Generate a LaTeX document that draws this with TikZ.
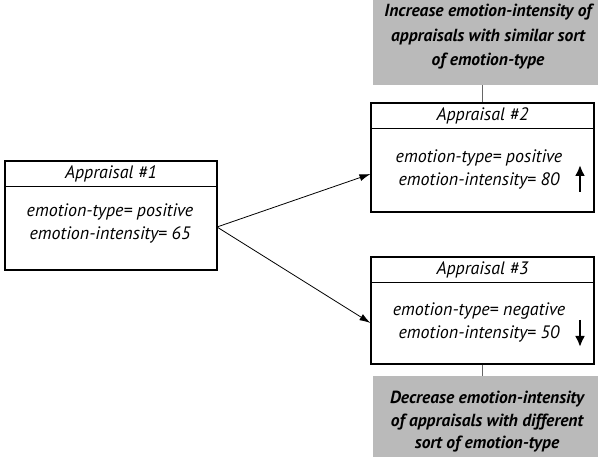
\documentclass[tikz,border=0pt]{standalone}
\usepackage{fontspec}
\setmainfont{PT Sans}
\usetikzlibrary{arrows.meta}
\tikzset{
  box/.style={draw=black, line width=1.1pt, fill=white, inner sep=0pt},
  sepline/.style={draw=black, line width=1pt},
  ttl/.style={font=\fontsize{18}{20}\selectfont\itshape, inner sep=0pt},
  body/.style={font=\fontsize{18}{23}\selectfont\itshape, align=center, inner sep=0pt},
  note/.style={fill=black!27, draw=none, inner sep=0pt},
  notetext/.style={align=center, inner sep=0pt, font=\fontsize{17.5}{24.5}\selectfont\bfseries\itshape},
  conn/.style={draw=black!60, line width=0.6pt},
  arr/.style={draw=black, line width=0.8pt, -{Latex[length=11pt,width=7pt]}},
  updown/.style={draw=black, line width=2.6pt, -{Latex[length=11pt,width=10pt]}}
}
\begin{document}
\begin{tikzpicture}[x=1pt,y=-1pt]
\useasboundingbox (0,0) rectangle (598,457);
% gray notes
\node[note, minimum width=225pt, minimum height=85pt] (g1) at (485.5,42.5) {};
\node[notetext] (g1t) at (488,37) {Increase emotion-intensity of\\appraisals with similar sort\\of emotion-type};
\node[note, minimum width=225pt, minimum height=81pt] (g2) at (485.5,416.5) {};
\node[notetext, font=\fontsize{17.5}{22.5}\selectfont\bfseries\itshape] (g2t) at (487,422) {Decrease emotion-intensity\\of appraisals with different\\sort of emotion-type};
% boxes
\node[box, minimum width=212pt, minimum height=109pt] (b1) at (111,215.5) {};
\node[box, minimum width=223pt, minimum height=109pt] (b2) at (482.5,157.5) {};
\node[box, minimum width=223pt, minimum height=107pt] (b3) at (482.5,310.5) {};
% separators
\coordinate (s1) at (0,187);
\coordinate (s2) at (0,129);
\coordinate (s3) at (0,283);
\draw[sepline] (b1.west |- s1) -- (b1.east |- s1);
\draw[sepline] (b2.west |- s2) -- (b2.east |- s2);
\draw[sepline] (b3.west |- s3) -- (b3.east |- s3);
% titles
\node[ttl] (t1) at (111,174) {Appraisal \#1};
\node[ttl] (t2) at (482.5,116) {Appraisal \#2};
\node[ttl] (t3) at (482.5,270) {Appraisal \#3};
% bodies
\node[body] (v1) at (110,223) {emotion-type= positive\\emotion-intensity= 65};
\node[body] (v2) at (479,169) {emotion-type= positive\\emotion-intensity= 80};
\node[body] (v3) at (479,322.5) {emotion-type= negative\\emotion-intensity= 50};
% up / down arrows
\coordinate (u1) at (580,192);
\coordinate (u2) at (580,165);
\coordinate (d1) at (580,320);
\coordinate (d2) at (580,347);
\draw[updown] (u1) -- (u2);
\draw[updown] (d1) -- (d2);
% connectors to notes
\draw[conn] (g1.south -| b2.north) -- (b2.north);
\draw[conn] (b3.south) -- (g2.north -| b3.south);
% main arrows
\coordinate (o) at (217,227);
\draw[arr] (o) -- ([yshift=-16.5pt]b2.west);
\draw[arr] (o) -- ([yshift=-12.5pt]b3.west);
\end{tikzpicture}
\end{document}
